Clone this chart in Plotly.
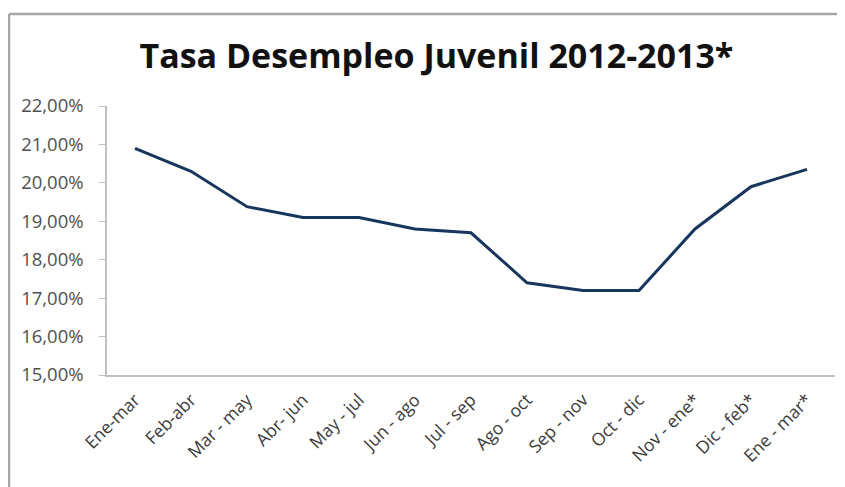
import plotly.graph_objects as go

categories = ["Ene-mar", "Feb-abr", "Mar - may", "Abr- jun", "May - jul", "Jun - ago",
              "Jul - sep", "Ago - oct", "Sep - nov", "Oct - dic", "Nov - ene*",
              "Dic - feb*", "Ene - mar*"]
tasa = [20.90, 20.30, 19.38, 19.10, 19.10, 18.80, 18.70, 17.40, 17.20, 17.20, 18.80, 19.90, 20.35]
y_ticks = [15, 16, 17, 18, 19, 20, 21, 22]
y_tick_labels = ["15,00%", "16,00%", "17,00%", "18,00%", "19,00%", "20,00%", "21,00%", "22,00%"]

fig = go.Figure()
fig.add_trace(go.Scatter(
    x=categories, y=tasa, mode="lines",
    line=dict(color="#17365D", width=3),
    showlegend=False, hoverinfo="x+y",
))

fig.update_layout(
    width=845, height=487,
    margin=dict(l=99, r=18, t=98, b=120),
    paper_bgcolor="white", plot_bgcolor="white",
    title=dict(text="<b>Tasa Desempleo Juvenil 2012-2013*</b>",
               x=0.507, xanchor="center", y=0.901, yanchor="middle",
               font=dict(family="Open Sans", size=34, color="#111111")),
    font=dict(family="Open Sans", color="#404040"),
    xaxis=dict(
        type="category", tickangle=-45, showgrid=False, zeroline=False,
        showline=True, linecolor="#BFBFBF", linewidth=1.5,
        ticks="", tickfont=dict(size=17.5, color="#3A3A3A"),
        ticklabelstandoff=6,
        range=[-0.5, len(categories) - 0.5],
    ),
    yaxis=dict(
        range=[15, 22], tickvals=y_ticks, ticktext=y_tick_labels,
        showgrid=False, zeroline=False, showline=True, linecolor="#BFBFBF",
        linewidth=1.5, ticks="outside", ticklen=6, tickcolor="#BFBFBF",
        ticklabelstandoff=12,
        tickfont=dict(size=18.5, color="#505050"),
    ),
    shapes=[
        dict(type="line", xref="paper", yref="paper", x0=-0.1346, x1=-0.1346, y0=1.342, y1=-0.45,
             line=dict(color="#A6A6A6", width=2.5)),
        dict(type="line", xref="paper", yref="paper", x0=-0.1346, x1=1.03, y0=1.342, y1=1.342,
             line=dict(color="#A6A6A6", width=2.5)),
    ],
)

fig.write_html("out.html")
